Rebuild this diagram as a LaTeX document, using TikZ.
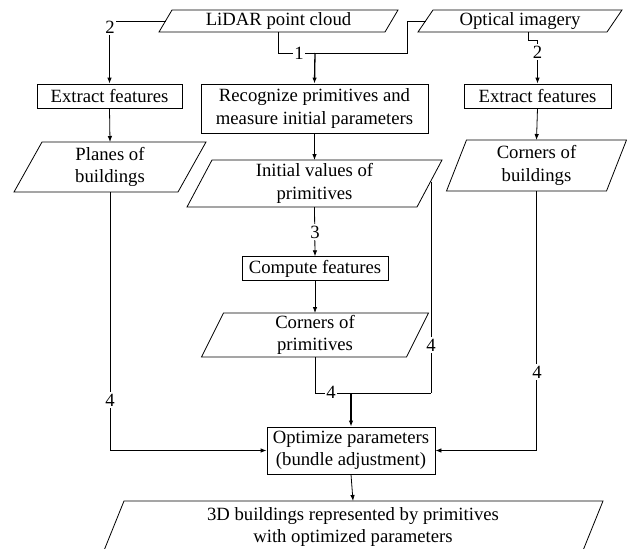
\documentclass[tikz,border=0pt]{standalone}
\usepackage{fontspec}
\setmainfont{Liberation Serif}
\newfontfamily\diafont{Liberation Serif}
\usetikzlibrary{arrows.meta}
\newcommand\dfont{\diafont\fontsize{18.7}{22.5}\selectfont}
% name, cx, cy, w, h, slant, text
\newcommand\pgram[7]{%
  \node[txt] (#1) at (#2,#3) {#7};
  \draw[ln] ({#2-#4/2+#6/2},{#3-#5/2}) -- ({#2+#4/2+#6/2},{#3-#5/2})
     -- ({#2+#4/2-#6/2},{#3+#5/2}) -- ({#2-#4/2-#6/2},{#3+#5/2}) -- cycle;
  \coordinate (#1-n) at (#2,{#3-#5/2});
  \coordinate (#1-s) at (#2,{#3+#5/2});
  \coordinate (#1-w) at ({#2-#4/2},#3);
  \coordinate (#1-e) at ({#2+#4/2},#3);
}
\tikzset{
  ln/.style={line width=0.8pt},
  arr/.style={ln,-{Latex[length=6pt,width=4.5pt]}},
  boldarr/.style={line width=1.3pt,-{Latex[length=6pt,width=4.5pt]}},
  boxnode/.style={draw,ln,inner sep=0pt,align=center,font=\dfont},
  txt/.style={inner sep=0pt,align=center,font=\dfont},
  lab/.style={fill=white,inner sep=1.5pt,font=\dfont},
}
\begin{document}
\begin{tikzpicture}[x=1pt,y=-1pt]
\useasboundingbox (0,0) rectangle (627,549);
% inputs
\pgram{lidar}{278.5}{21}{226}{22}{13}{LiDAR point cloud}
\pgram{optical}{520}{21}{189}{22}{15}{Optical imagery}
% boxes
\node[boxnode,minimum width=145pt,minimum height=24pt] (ext1) at (109.5,96) {Extract features};
\node[boxnode,minimum width=227pt,minimum height=49pt] (recog) at (314.5,108.5) {Recognize primitives and\\measure initial parameters};
\node[boxnode,minimum width=147pt,minimum height=24pt] (ext2) at (537.5,96) {Extract features};
% data
\pgram{planes}{110}{167}{164}{50}{28}{Planes of\\buildings}
\pgram{initial}{314.5}{183.5}{230}{47}{25}{Initial values of\\primitives}
\pgram{cornb}{536.5}{165.5}{160}{51}{20}{Corners of\\buildings}
\node[boxnode,minimum width=146pt,minimum height=24pt] (compute) at (315,268.7) {Compute features};
\pgram{cornp}{315}{335}{205}{44}{22}{Corners of\\primitives}
\node[boxnode,minimum width=168pt,minimum height=47pt] (opt) at (351,450.5) {Optimize parameters\\(bundle adjustment)};
\pgram{out}{353}{527}{479}{52}{21}{3D buildings represented by primitives\\with optimized parameters}
% helper coordinates
\coordinate (j1) at (315,53);
\coordinate (k1) at (407,21);
\coordinate (optb) at (528,32);
\coordinate (k3) at (537.5,40);
\coordinate (k5) at (431,181.5);
\coordinate (k4) at (431,393);
\coordinate (j2) at (351,393);
% connectors
\draw[arr] (lidar-w) -| (ext1.north);
\draw[arr] (ext1.south) -- (planes-n);
\draw[arr] (planes-s) |- (opt.west);
\draw[ln] (lidar-s) |- (j1);
\draw[ln] (optical-w) -- (k1) |- (j1);
\draw[boldarr] (j1) -- (recog.north);
\draw[arr] (optb) |- (k3) -- (ext2.north);
\draw[arr] (ext2.south) -- (cornb-n);
\draw[arr] (cornb-s) |- (opt.east);
\draw[arr] (recog.south) -- (initial-n);
\draw[arr] (initial-s) -- (compute.north);
\draw[arr] (compute.south) -- (cornp-n);
\draw[ln] (cornp-s) |- (k4);
\draw[ln] (k5) -- (k4);
\draw[boldarr] (j2) -- (opt.north);
\draw[arr] (opt.south) -- (out-n);
% labels
\node[lab] (l2a) at (110,27) {2};
\node[lab] (l1) at (299,53) {1};
\node[lab] (l2b) at (537.5,52) {2};
\node[lab] (l3) at (315,232) {3};
\node[lab] (l4a) at (110,400) {4};
\node[lab] (l4b) at (331,392) {4};
\node[lab] (l4c) at (431,345) {4};
\node[lab] (l4d) at (537,372) {4};
\end{tikzpicture}
\end{document}
